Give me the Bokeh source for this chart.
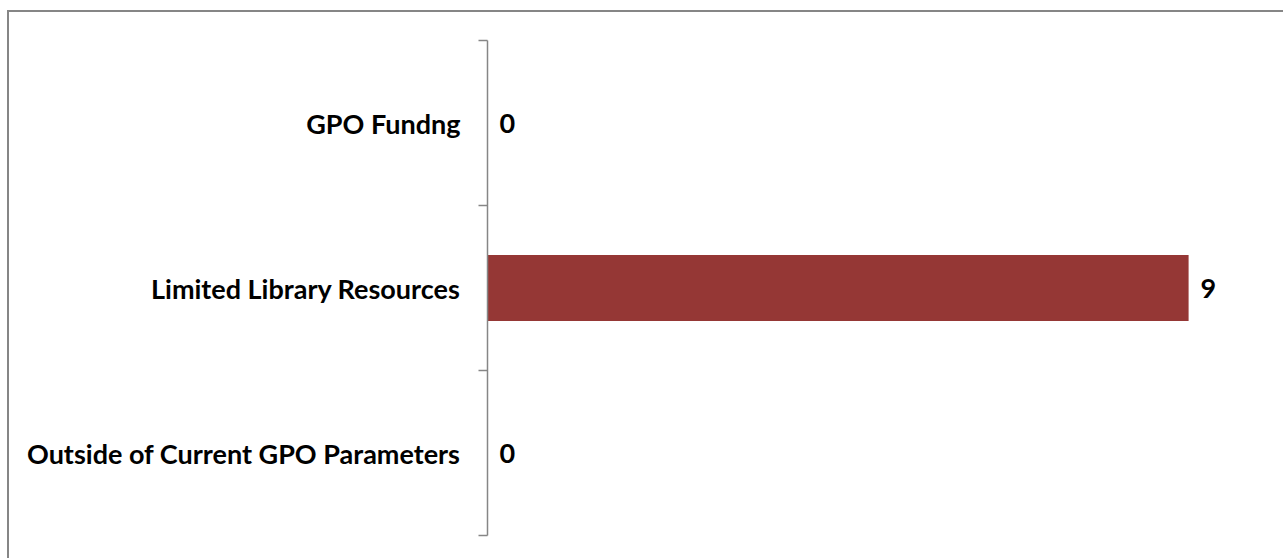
from bokeh.plotting import figure
from bokeh.models import FixedTicker, Range1d, ColumnDataSource, InlineStyleSheet
from bokeh.core.properties import value
from bokeh.embed import file_html
from bokeh.resources import INLINE

# Data (top to bottom as shown)
categories = ["GPO Fundng", "Limited Library Resources", "Outside of Current GPO Parameters"]
counts = [0, 9, 0]
value_labels = ["0", "9", "0"]

n = len(categories)
# numeric positions: top category highest
ypos = [n - i - 0.5 for i in range(n)]

FONT = "Lato"
GRAY = "#868686"
BAR = "#953735"

p = figure(width=1283, height=558, output_backend="svg", toolbar_location=None,
           x_range=Range1d(0, 10), y_range=Range1d(0, n),
           min_border_left=487, min_border_top=40, min_border_bottom=23, min_border_right=17)
p.outline_line_color = None
p.background_fill_color = "white"
p.border_fill_color = "white"
p.xgrid.visible = False
p.ygrid.visible = False
p.xaxis.visible = False

src = ColumnDataSource(dict(y=ypos, v=counts, lab=value_labels))
p.hbar(y="y", right="v", left=0, height=0.4, color=BAR, line_color=None, source=src)
p.text(x="v", y="y", text="lab", source=src, x_offset=12,
       text_align="left", text_baseline="middle",
       text_font=value(FONT), text_font_style="bold", text_font_size="27px", text_color="black")

ax = p.yaxis[0]
ax.ticker = FixedTicker(ticks=ypos, minor_ticks=list(range(n + 1)))
ax.major_label_overrides = {y: c for y, c in zip(ypos, categories)}
ax.major_tick_out = 0
ax.major_tick_in = 0
ax.minor_tick_out = 9
ax.minor_tick_in = 0
ax.minor_tick_line_color = GRAY
ax.minor_tick_line_width = 1.5
ax.axis_line_color = GRAY
ax.axis_line_width = 1.5
ax.major_label_standoff = 18
ax.major_label_text_font = FONT
ax.major_label_text_font_style = "bold"
ax.major_label_text_font_size = "27px"
ax.major_label_text_color = "black"

# chart-area border (only top & left edges fall inside the crop)
p.stylesheets = [InlineStyleSheet(css="""
:host { position: relative; }
:host::after {
  content: ""; position: absolute; left: 7px; top: 10px; right: 0px; bottom: 0px;
  border-left: 2px solid #868686; border-top: 2px solid #868686;
  pointer-events: none; z-index: 10;
}
""")]

open("out.html", "w").write(file_html(p, INLINE))
